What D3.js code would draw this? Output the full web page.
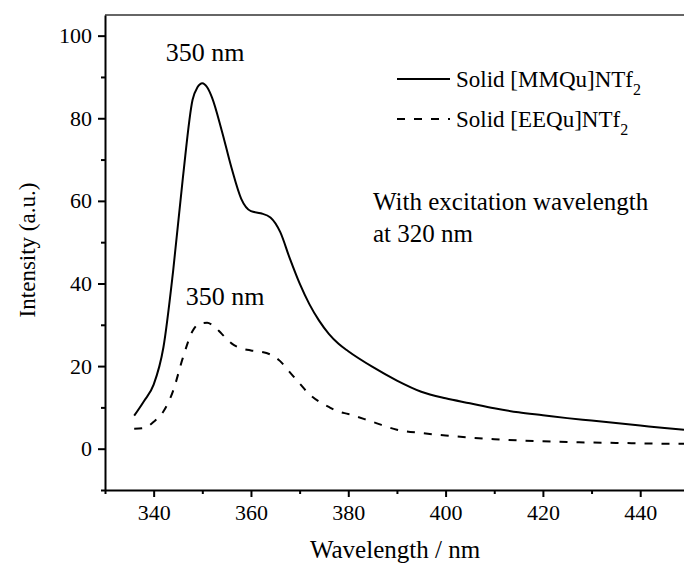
<!DOCTYPE html>
<html>
<head>
<script src="https://d3js.org/d3.v7.min.js"></script>
<style>
	body, html {
		margin: 0;
		padding: 0;
		background: #fff;
	}
	svg text {
		font-family: "Liberation Serif", "DejaVu Serif", "Times New Roman", Times, serif !important;
		fill: #000;
	}
	.axis path, .axis line {
		fill: none;
		stroke: #000;
		stroke-width: 2px;
	}
	.axis text {
		font-size: 22px;
	}
</style>
</head>
<body>
<script>
	// wavelengths (nm) shared by both spectra
	var wavelengths = [336, 338, 340, 342, 344, 346, 348, 349, 350, 351, 352, 354, 356, 358, 360, 362, 364, 366, 368, 370,
		372, 374, 376, 378, 380, 385, 390, 395, 400, 405, 410, 415, 420, 425, 430, 435, 440, 445, 449];

	var mmquValues = [8, 11.5, 15.5, 24.5, 43, 65.5, 84.5, 87.5, 88.5, 87.5, 85, 77, 68, 60.5, 57.5, 57, 56, 52.5, 46, 40,
		35, 31, 27.8, 25.4, 23.6, 19.8, 16.5, 13.8, 12.2, 11, 9.8, 8.8, 8.1, 7.4, 6.8, 6.2, 5.6, 5.0, 4.6];

	var eequValues = [4.8, 5.0, 6.5, 9, 14, 22, 28.5, 30, 30.4, 30.5, 30, 27.8, 25.5, 24.3, 23.8, 23.5, 22.8, 21.2, 18.5, 15.8,
		13.2, 11.4, 10.1, 9.0, 8.4, 6.5, 4.6, 3.8, 3.2, 2.7, 2.3, 2.0, 1.8, 1.6, 1.5, 1.4, 1.3, 1.2, 1.2];

	var seriesNames = ["Solid [MMQu]NTf", "Solid [EEQu]NTf"];
	var xTicks = [340, 360, 380, 400, 420, 440];
	var yTicks = [0, 20, 40, 60, 80, 100];

	var w = 684, h = 568;
	var margin = {top: 15, right: 0, bottom: 78, left: 105};
	var serif = "'Liberation Serif', 'DejaVu Serif', 'Times New Roman', Times, serif";

	var svg = d3.select("body").append("svg")
		.attr("width", w)
		.attr("height", h)
		.attr("font-family", serif);

	var x = d3.scaleLinear().domain([330, 449]).range([margin.left, w - margin.right]);
	var y = d3.scaleLinear().domain([-10, 105]).range([h - margin.bottom, margin.top]);

	var series = [
		{name: seriesNames[0], values: mmquValues, dash: null},
		{name: seriesNames[1], values: eequValues, dash: "8,9"}
	];

	svg.append("clipPath").attr("id", "clip")
		.append("rect")
		.attr("x", margin.left).attr("y", margin.top)
		.attr("width", w - margin.left - margin.right)
		.attr("height", h - margin.top - margin.bottom);

	// top frame line
	svg.append("line")
		.attr("x1", x(330)).attr("x2", w)
		.attr("y1", y(105)).attr("y2", y(105))
		.attr("stroke", "#333").attr("stroke-width", 1.5);

	// minor ticks
	var xMinor = d3.range(330, 450, 10).filter(function(d){ return xTicks.indexOf(d) < 0; });
	var yMinor = d3.range(-10, 105, 10).filter(function(d){ return yTicks.indexOf(d) < 0; });

	svg.append("g").attr("class", "axis")
		.attr("transform", "translate(0," + y(-10) + ")")
		.call(d3.axisBottom(x).tickValues(xMinor).tickSize(4).tickFormat(""))
		.select(".domain").remove();
	svg.append("g").attr("class", "axis")
		.attr("transform", "translate(" + x(330) + ",0)")
		.call(d3.axisLeft(y).tickValues(yMinor).tickSize(4).tickFormat(""))
		.select(".domain").remove();

	var xAxis = svg.append("g").attr("class", "axis")
		.attr("transform", "translate(0," + y(-10) + ")")
		.call(d3.axisBottom(x).tickValues(xTicks).tickSize(7).tickSizeOuter(0).tickPadding(7));
	xAxis.selectAll("text").attr("dy", "0.71em");

	svg.append("g").attr("class", "axis")
		.attr("transform", "translate(" + x(330) + ",0)")
		.call(d3.axisLeft(y).tickValues(yTicks).tickSize(7).tickSizeOuter(0).tickPadding(6));

	svg.selectAll(".axis").attr("font-family", serif);

	// spectra
	var line = d3.line()
		.x(function(d, i){ return x(wavelengths[i]); })
		.y(function(d){ return y(d); })
		.curve(d3.curveMonotoneX);

	svg.append("g").attr("clip-path", "url(#clip)")
		.selectAll("path.spec")
		.data(series).enter()
		.append("path")
		.attr("class", "spec")
		.attr("d", function(d){ return line(d.values); })
		.attr("fill", "none")
		.attr("stroke", "#000")
		.attr("stroke-width", 2)
		.attr("stroke-dasharray", function(d){ return d.dash; });

	// axis titles
	svg.append("text")
		.attr("x", 395).attr("y", 558)
		.attr("text-anchor", "middle")
		.style("font-size", "25px")
		.text("Wavelength / nm");

	svg.append("text")
		.attr("transform", "translate(35,250) rotate(-90)")
		.attr("text-anchor", "middle")
		.style("font-size", "23px")
		.text("Intensity (a.u.)");

	// peak annotations
	svg.append("text").attr("x", 205).attr("y", 61)
		.attr("text-anchor", "middle").style("font-size", "26px").text("350 nm");
	svg.append("text").attr("x", 225).attr("y", 305)
		.attr("text-anchor", "middle").style("font-size", "26px").text("350 nm");

	// legend
	var legend = svg.append("g").selectAll("g")
		.data(series).enter()
		.append("g")
		.attr("transform", function(d, i){ return "translate(397," + (79 + i * 40) + ")"; });
	legend.append("line")
		.attr("x1", 0).attr("x2", 53)
		.attr("stroke", "#000").attr("stroke-width", 2)
		.attr("stroke-dasharray", function(d){ return d.dash; });
	var lt = legend.append("text")
		.attr("x", 59).attr("y", 8)
		.style("font-size", "23px");
	lt.append("tspan").text(function(d){ return d.name; });
	lt.append("tspan").attr("dy", 8).style("font-size", "16px").text("2");

	svg.append("text").attr("x", 373).attr("y", 210)
		.style("font-size", "25px").text("With excitation wavelength");
	svg.append("text").attr("x", 373).attr("y", 242)
		.style("font-size", "25px").text("at 320 nm");
</script>
</body>
</html>
